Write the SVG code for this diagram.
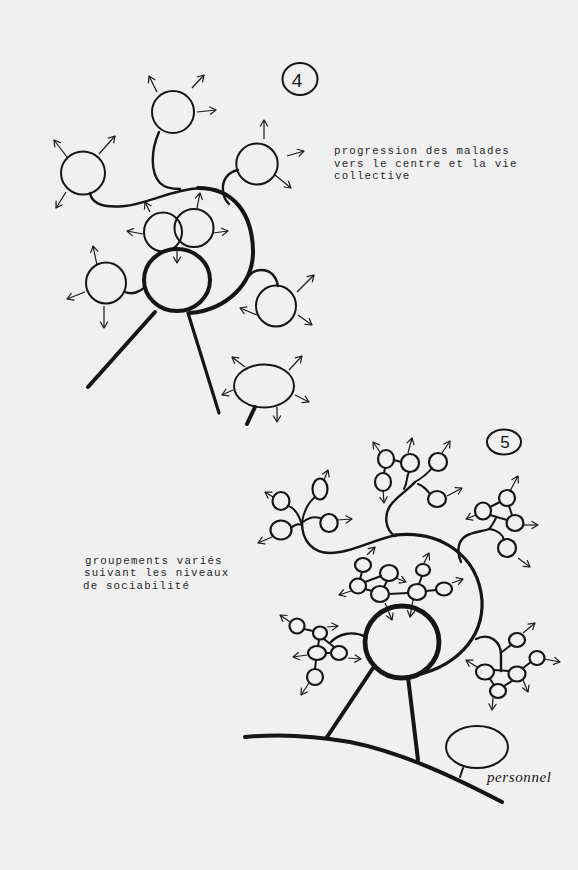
<svg xmlns="http://www.w3.org/2000/svg" width="578" height="870" viewBox="0 0 578 870">
<defs>
<marker id="ah" viewBox="-8 -6 10 12" refX="0" refY="0" markerWidth="10" markerHeight="12" markerUnits="userSpaceOnUse" orient="auto" overflow="visible">
<path d="M-6,-3.6 L0,0 L-6,3.6" fill="none" stroke="#1a1a1a" stroke-width="1.2" stroke-linecap="round" stroke-linejoin="round"/>
</marker>
</defs>
<style>
.n{fill:none;stroke:#151515;stroke-width:2}
.s{fill:none;stroke:#151515;stroke-width:2.2}
.k{fill:none;stroke:#151515;stroke-width:2.4;stroke-linecap:round}
.t2{stroke-width:2}
.t3{stroke-width:3.2}
.t4{stroke-width:4}
.t5{stroke-width:4.8}
.a{fill:none;stroke:#1a1a1a;stroke-width:1.2;marker-end:url(#ah)}
.ty{font-family:"Liberation Mono",monospace;font-size:10.8px;letter-spacing:1.17px;fill:#262626}
.hw{font-family:"Liberation Sans",sans-serif;fill:#151515}
</style>
<rect width="578" height="870" fill="#f0f0f0"/>

<!-- ===== Figure 4 ===== -->
<g id="label4"><ellipse class="n" cx="300" cy="79" rx="17.5" ry="16"/><text class="hw" x="297" y="87" font-size="19" text-anchor="middle">4</text></g>
<g id="text4">
<text class="ty" x="334" y="154">progression des malades</text>
<text class="ty" x="334" y="166.7">vers le centre et la vie</text>
<text class="ty" x="334" y="179.4">collective</text>
</g>
<g id="n4-top"><ellipse class="n" cx="173" cy="112" rx="21" ry="21"/></g>
<g id="n4-left"><ellipse class="n" cx="83" cy="173" rx="22" ry="21.5"/></g>
<g id="n4-right"><ellipse class="n" cx="257" cy="164" rx="20.7" ry="20.5"/></g>
<g id="n4-ov1"><ellipse class="n" cx="163" cy="232" rx="19" ry="19.5"/></g>
<g id="n4-ov2"><ellipse class="n" cx="194" cy="228" rx="19.5" ry="19"/></g>
<g id="n4-center"><ellipse class="n t4" cx="177" cy="280" rx="33" ry="31"/></g>
<g id="n4-lowleft"><ellipse class="n" cx="106" cy="283" rx="20" ry="20.5"/></g>
<g id="n4-lowright"><ellipse class="n" cx="276" cy="306" rx="20" ry="20.5"/></g>
<g id="n4-bottom"><ellipse class="n" cx="264" cy="386" rx="30" ry="21.5"/></g>

<g id="connectors4">
<path class="k" d="M90,193 C92,205 105,208 125,206 C150,203 170,190 200,188"/>
<path class="k t4" d="M198,188 C235,188 252,215 253,250 C254,285 225,310 190,313"/>
<path class="k" d="M159,132 C151,150 150,172 160,183 C165,188 172,189 180,189"/>
<path class="k" d="M238,170 C228,172 222,180 223,190 C223,196 225,200 229,204"/>
<path class="k" d="M278,286 C276,276 270,270 261,270 C255,270 251,273 248,277"/>
<path class="k" d="M125,292 C132,295 140,292 145,287"/>
<path class="k t4" d="M155,312 L88,387"/>
<path class="k t3" d="M188,313 L219,413"/>
<path class="k t4" d="M255,407 L247,424"/>
<path class="a" d="M157,92 L149,76"/>
<path class="a" d="M192,88 L204,75"/>
<path class="a" d="M197,112 L216,110"/>
<path class="a" d="M67,157 L54,140"/>
<path class="a" d="M99,154 L115,136"/>
<path class="a" d="M66,192 L56,208"/>
<path class="a" d="M264,139 L264,120"/>
<path class="a" d="M287,156 L304,151"/>
<path class="a" d="M275,175 L291,188"/>
<path class="a" d="M150,212 L145,202"/>
<path class="a" d="M143,234 L127,231"/>
<path class="a" d="M197,208 L200,193"/>
<path class="a" d="M213,233 L228,231"/>
<path class="a" d="M177,247 L177,263"/>
<path class="a" d="M97,265 L93,246"/>
<path class="a" d="M85,292 L67,299"/>
<path class="a" d="M104,306 L104,328"/>
<path class="a" d="M257,315 L240,308"/>
<path class="a" d="M297,292 L314,275"/>
<path class="a" d="M298,315 L312,325"/>
<path class="a" d="M245,367 L232,357"/>
<path class="a" d="M289,370 L302,356"/>
<path class="a" d="M233,390 L222,395"/>
<path class="a" d="M295,395 L309,402"/>
<path class="a" d="M277,407 L277,422"/>
</g>

<!-- ===== Figure 5 ===== -->
<g id="label5"><ellipse class="n" cx="504" cy="442" rx="17" ry="12.5"/><text class="hw" x="505" y="448" font-size="17" text-anchor="middle">5</text></g>
<g id="text5">
<text class="ty" x="85" y="563.5">groupements variés</text>
<text class="ty" x="84" y="576">suivant les niveaux</text>
<text class="ty" x="83" y="588.5">de sociabilité</text>
</g>
<g id="n5-center"><ellipse class="n t5" cx="402" cy="642" rx="37" ry="36"/></g>
<g id="n5-personnel"><ellipse class="n" cx="477" cy="747" rx="31" ry="21"/><text x="487" y="782" font-family="Liberation Serif, serif" font-style="italic" font-size="15" textLength="64" fill="#151515">personnel</text></g>

<g id="n5-leftcluster">
<ellipse class="s" cx="281" cy="501" rx="8.5" ry="9"/>
<ellipse class="s" cx="281" cy="530" rx="10.5" ry="9.5"/>
<ellipse class="s" cx="320" cy="489" rx="7.5" ry="10.5"/>
<ellipse class="s" cx="329" cy="523" rx="8.7" ry="9"/>
</g>
<g id="n5-topcluster">
<ellipse class="s" cx="386" cy="459" rx="8" ry="9"/>
<ellipse class="s" cx="410" cy="463" rx="9" ry="9"/>
<ellipse class="s" cx="383" cy="482" rx="8" ry="9"/>
<ellipse class="s" cx="438" cy="462" rx="9" ry="9"/>
<ellipse class="s" cx="437" cy="499" rx="9" ry="8"/>
</g>
<g id="n5-rightcluster">
<ellipse class="s" cx="507" cy="498" rx="8" ry="8"/>
<ellipse class="s" cx="483" cy="511" rx="8" ry="8.5"/>
<ellipse class="s" cx="515" cy="523" rx="8.5" ry="8"/>
<ellipse class="s" cx="507" cy="548" rx="9" ry="9"/>
</g>
<g id="n5-centercluster">
<ellipse class="s" cx="363" cy="565" rx="8" ry="7"/>
<ellipse class="s" cx="389" cy="573" rx="9" ry="8"/>
<ellipse class="s" cx="358" cy="586" rx="8" ry="7.5"/>
<ellipse class="s" cx="380" cy="594" rx="9" ry="8"/>
<ellipse class="s" cx="423" cy="570" rx="7" ry="6"/>
<ellipse class="s" cx="417" cy="592" rx="9" ry="8"/>
<ellipse class="s" cx="444" cy="589" rx="8" ry="6.5"/>
</g>
<g id="n5-lowleftcluster">
<ellipse class="s" cx="297" cy="626" rx="7.5" ry="7.5"/>
<ellipse class="s" cx="320" cy="633" rx="7" ry="6.5"/>
<ellipse class="s" cx="317" cy="653" rx="9" ry="7"/>
<ellipse class="s" cx="339" cy="653" rx="8" ry="7"/>
<ellipse class="s" cx="315" cy="677" rx="8" ry="8"/>
</g>
<g id="n5-lowrightcluster">
<ellipse class="s" cx="517" cy="640" rx="8" ry="7"/>
<ellipse class="s" cx="537" cy="658" rx="7.5" ry="7"/>
<ellipse class="s" cx="485" cy="672" rx="9" ry="7.5"/>
<ellipse class="s" cx="517" cy="674" rx="8.5" ry="7.5"/>
<ellipse class="s" cx="498" cy="691" rx="8" ry="7"/>
</g>

<g id="connectors5">
<path class="k" d="M302,523 C302,540 312,553 330,553 C350,553 372,540 397,535"/>
<path class="k t3" d="M395,535 C440,530 478,555 482,600 C484,638 455,670 406,677"/>
<path class="k t4" d="M373,668 L327,737"/>
<path class="k t4" d="M408,677 L418,760"/>
<path class="k t4" d="M245,737 C275,734 310,735 350,742 C400,752 450,775 502,802"/>
<path class="k t2" d="M463,768 L460,777"/>
<!-- left cluster -->
<path class="k t2" d="M302,525 C298,512 293,507 288,506"/>
<path class="k t2" d="M302,525 C298,523 294,525 291,528"/>
<path class="k t2" d="M302,522 C304,510 309,502 315,497"/>
<path class="k t2" d="M303,522 C308,518 314,516 320,518"/>
<!-- top cluster -->
<path class="k" d="M395,536 C385,530 384,515 390,506 C396,497 408,490 415,482"/>
<path class="k t2" d="M404,489 C408,482 406,477 409,472"/>
<path class="k t2" d="M415,482 C422,478 428,473 432,468"/>
<path class="k t2" d="M418,484 C424,486 427,490 430,494"/>
<path class="k t2" d="M394,460 L401,462"/>
<path class="k t2" d="M385,468 L384,473"/>
<!-- right cluster -->
<path class="k" d="M461,562 C456,550 458,538 470,534 C478,531 485,531 489,529"/>
<path class="k t2" d="M489,529 C492,526 494,522 496,518"/>
<path class="k t2" d="M489,529 C498,530 503,535 504,540"/>
<path class="k t2" d="M500,502 L490,507"/>
<path class="k t2" d="M509,506 L512,515"/>
<path class="k t2" d="M490,515 L507,520"/>
<!-- center cluster -->
<path class="k t2" d="M362,572 L360,579"/>
<path class="k t2" d="M365,582 L381,576"/>
<path class="k t2" d="M365,589 L372,591"/>
<path class="k t2" d="M387,581 L384,587"/>
<path class="k t2" d="M389,594 L408,593"/>
<path class="k t2" d="M419,584 L422,576"/>
<path class="k t2" d="M426,591 L436,590"/>
<!-- lower left cluster -->
<path class="k t2" d="M304,629 L313,631"/>
<path class="k t2" d="M319,640 L318,646"/>
<path class="k t2" d="M324,639 L334,647"/>
<path class="k t2" d="M326,653 L331,653"/>
<path class="k t2" d="M316,660 L315,669"/>
<path class="k" d="M330,643 C338,634 352,630 366,637"/>
<!-- lower right cluster -->
<path class="k" d="M476,639 C490,632 501,642 501,655 L501,671"/>
<path class="k t2" d="M502,652 L511,645"/>
<path class="k t2" d="M494,670 L509,671"/>
<path class="k t2" d="M490,679 L494,685"/>
<path class="k t2" d="M512,681 L504,686"/>
<path class="k t2" d="M523,668 L531,662"/>
<!-- arrows -->
<path class="a" d="M273,497 L265,492"/>
<path class="a" d="M272,537 L258,543"/>
<path class="a" d="M324,480 L328,470"/>
<path class="a" d="M337,520 L352,519"/>
<path class="a" d="M380,452 L373,442"/>
<path class="a" d="M408,453 L412,438"/>
<path class="a" d="M383,490 L384,503"/>
<path class="a" d="M442,453 L450,441"/>
<path class="a" d="M447,496 L462,488"/>
<path class="a" d="M510,491 L518,476"/>
<path class="a" d="M476,515 L466,519"/>
<path class="a" d="M523,525 L538,525"/>
<path class="a" d="M518,558 L530,567"/>
<path class="a" d="M367,555 L375,547"/>
<path class="a" d="M396,578 L406,582"/>
<path class="a" d="M351,591 L339,595"/>
<path class="a" d="M385,603 L392,620"/>
<path class="a" d="M424,563 L429,553"/>
<path class="a" d="M413,600 L410,617"/>
<path class="a" d="M452,583 L463,579"/>
<path class="a" d="M290,622 L280,615"/>
<path class="a" d="M327,627 L338,626"/>
<path class="a" d="M307,655 L293,657"/>
<path class="a" d="M348,658 L361,659"/>
<path class="a" d="M309,683 L301,695"/>
<path class="a" d="M523,633 L535,623"/>
<path class="a" d="M544,659 L560,662"/>
<path class="a" d="M477,667 L466,660"/>
<path class="a" d="M523,680 L528,692"/>
<path class="a" d="M493,698 L492,710"/>
</g>
</svg>
